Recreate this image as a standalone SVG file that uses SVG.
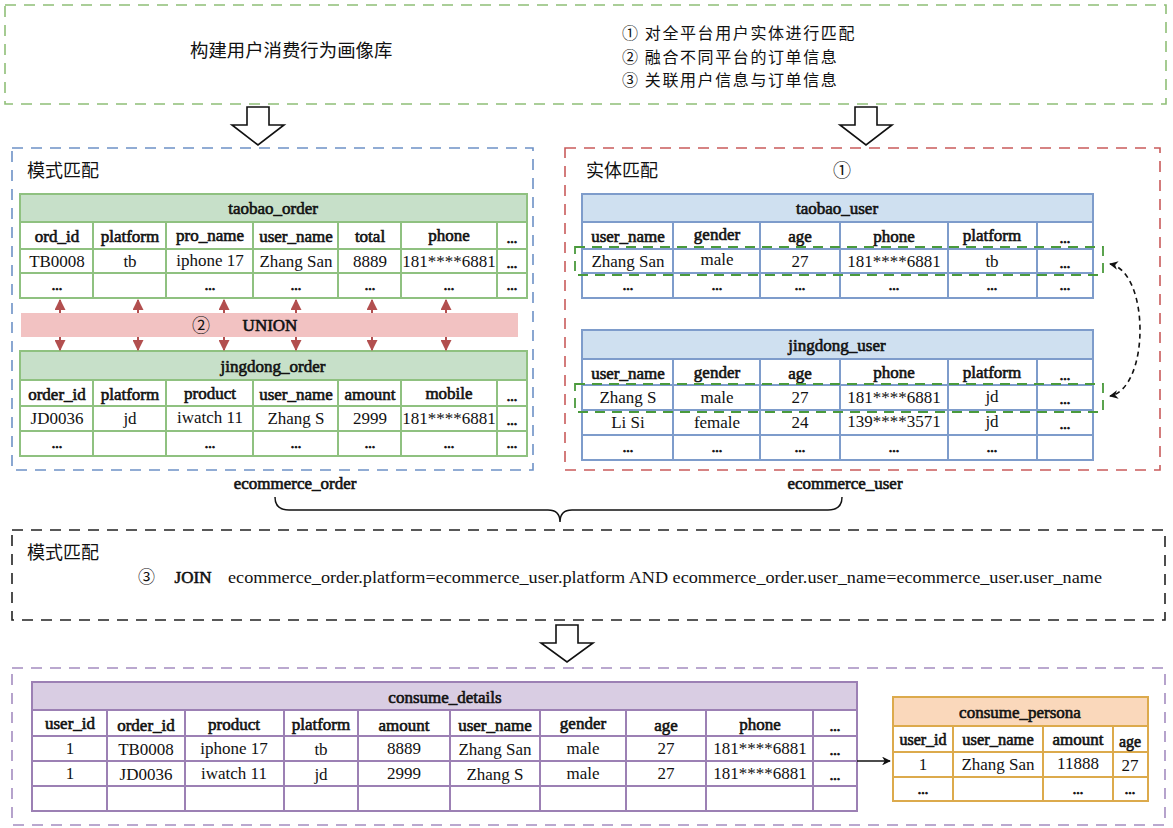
<svg xmlns="http://www.w3.org/2000/svg" width="1173" height="828" viewBox="0 0 1173 828">
<defs>
<style>
.cn{font-family:"Noto Sans CJK SC","Noto Sans",sans-serif;font-size:18px;fill:#111}
.steps{font-size:16px;letter-spacing:1.6px}
.t{font-family:"Liberation Serif","Times New Roman",serif;fill:#111;text-anchor:middle;dominant-baseline:central}
.h{font-size:17px;stroke:#111;stroke-width:0.6;paint-order:stroke}
.d{font-size:17px}
.dot{font-size:14px;stroke:#111;stroke-width:0.9}
.g .frame{stroke:#8fc180;stroke-width:2;fill:#fff}
.g .head{fill:#c7e0c9}
.g line{stroke:#8fc180;stroke-width:2}
.b .frame{stroke:#7e9ccb;stroke-width:2;fill:#fff}
.b .head{fill:#cfe0f0}
.b line{stroke:#7e9ccb;stroke-width:2}
.p .frame{stroke:#9c80b4;stroke-width:2;fill:#fff}
.p .head{fill:#d9cde3}
.p line{stroke:#9c80b4;stroke-width:2}
.o .frame{stroke:#dcaa4c;stroke-width:2;fill:#fff}
.o .head{fill:#fad8bb}
.o line{stroke:#dcaa4c;stroke-width:2}
.box{fill:none;stroke-width:1.6;stroke-dasharray:11 8}
.hollow{fill:#fff;stroke:#111;stroke-width:1.6;stroke-linejoin:miter}
</style>
<marker id="ra" viewBox="0 0 10 10" refX="9" refY="5" markerWidth="5.5" markerHeight="5.5" orient="auto-start-reverse"><path d="M0,0 L10,5 L0,10 z" fill="#b24f4f"/></marker>
<marker id="ka" viewBox="0 0 10 10" refX="9" refY="5" markerWidth="5.5" markerHeight="5.5" orient="auto-start-reverse"><path d="M0,0 L10,5 L0,10 L3,5 z" fill="#111"/></marker>
</defs>
<rect width="1173" height="828" fill="#fff"/>

<!-- frames -->
<g id="goal">
<rect class="box" x="5" y="5" width="1161" height="99" stroke="#8fbf77"/>
<text class="cn" x="190" y="57" style="font-size:18.4px">构建用户消费行为画像库</text>
<text class="cn steps" x="622" y="39"><tspan x="622" y="39">① 对全平台用户实体进行匹配</tspan><tspan x="622" y="62.5">② 融合不同平台的订单信息</tspan><tspan x="622" y="86">③ 关联用户信息与订单信息</tspan></text>
</g>

<g id="schema-frame">
<rect class="box" x="12" y="148" width="521" height="322" stroke="#6d91c6"/>
<text class="cn" x="27" y="177">模式匹配</text>
</g>
<g id="entity-frame">
<rect class="box" x="565" y="148" width="595" height="322" stroke="#c95b5b"/>
<text class="cn" x="586" y="177">实体匹配</text>
<text class="cn" x="833" y="177">①</text>
</g>

<!-- taobao_order -->
<g id="taobao_order" class="g">
<rect class="frame" x="20" y="194" width="507" height="104"/>
<rect class="head" x="21" y="195" width="505" height="27"/>
<line x1="20" y1="222" x2="527" y2="222"/><line x1="20" y1="249" x2="527" y2="249"/><line x1="20" y1="273" x2="527" y2="273"/>
<line x1="93" y1="222" x2="93" y2="298"/><line x1="166" y1="222" x2="166" y2="298"/><line x1="253" y1="222" x2="253" y2="298"/><line x1="338" y1="222" x2="338" y2="298"/><line x1="401" y1="222" x2="401" y2="298"/><line x1="497" y1="222" x2="497" y2="298"/>
<text class="t h" x="273" y="208">taobao_order</text>
<text class="t h" x="57" y="236">ord_id</text><text class="t h" x="130" y="236">platform</text><text class="t h" x="210" y="235">pro_name</text><text class="t h" x="296" y="236">user_name</text><text class="t h" x="370" y="236">total</text><text class="t h" x="449" y="235">phone</text><text class="t dot" x="512" y="238">...</text>
<text class="t d" x="57" y="261">TB0008</text><text class="t d" x="130" y="261">tb</text><text class="t d" x="210" y="260">iphone 17</text><text class="t d" x="296" y="261">Zhang San</text><text class="t d" x="370" y="261">8889</text><text class="t d" x="449" y="261">181****6881</text><text class="t dot" x="512" y="263">...</text>
<text class="t dot" x="57" y="285">...</text><text class="t dot" x="210" y="285">...</text><text class="t dot" x="296" y="285">...</text><text class="t dot" x="370" y="285">...</text><text class="t dot" x="449" y="285">...</text><text class="t dot" x="512" y="285">...</text>
</g>

<!-- jingdong_order -->
<g id="jingdong_order" class="g">
<rect class="frame" x="20" y="351" width="507" height="105"/>
<rect class="head" x="21" y="352" width="505" height="28"/>
<line x1="20" y1="380" x2="527" y2="380"/><line x1="20" y1="406" x2="527" y2="406"/><line x1="20" y1="431" x2="527" y2="431"/>
<line x1="93" y1="380" x2="93" y2="456"/><line x1="166" y1="380" x2="166" y2="456"/><line x1="253" y1="380" x2="253" y2="456"/><line x1="338" y1="380" x2="338" y2="456"/><line x1="401" y1="380" x2="401" y2="456"/><line x1="497" y1="380" x2="497" y2="456"/>
<text class="t h" x="273" y="366">jingdong_order</text>
<text class="t h" x="57" y="394">order_id</text><text class="t h" x="130" y="394">platform</text><text class="t h" x="210" y="393">product</text><text class="t h" x="296" y="394">user_name</text><text class="t h" x="370" y="394">amount</text><text class="t h" x="449" y="393">mobile</text><text class="t dot" x="512" y="396">...</text>
<text class="t d" x="57" y="418">JD0036</text><text class="t d" x="130" y="418">jd</text><text class="t d" x="210" y="417">iwatch 11</text><text class="t d" x="296" y="418">Zhang S</text><text class="t d" x="370" y="418">2999</text><text class="t d" x="449" y="418">181****6881</text><text class="t dot" x="512" y="420">...</text>
<text class="t dot" x="57" y="443">...</text><text class="t dot" x="210" y="443">...</text><text class="t dot" x="296" y="443">...</text><text class="t dot" x="370" y="443">...</text><text class="t dot" x="449" y="443">...</text><text class="t dot" x="512" y="443">...</text>
</g>

<!-- taobao_user -->
<g id="taobao_user" class="b">
<rect class="frame" x="582" y="194" width="511" height="104"/>
<rect class="head" x="583" y="195" width="509" height="27"/>
<line x1="582" y1="222" x2="1093" y2="222"/><line x1="582" y1="249" x2="1093" y2="249"/><line x1="582" y1="273" x2="1093" y2="273"/>
<line x1="673" y1="222" x2="673" y2="298"/><line x1="760" y1="222" x2="760" y2="298"/><line x1="840" y1="222" x2="840" y2="298"/><line x1="948" y1="222" x2="948" y2="298"/><line x1="1037" y1="222" x2="1037" y2="298"/>
<text class="t h" x="837" y="208">taobao_user</text>
<text class="t h" x="628" y="236">user_name</text><text class="t h" x="717" y="234">gender</text><text class="t h" x="800" y="236">age</text><text class="t h" x="894" y="236">phone</text><text class="t h" x="992" y="235">platform</text><text class="t dot" x="1065" y="238">...</text>
<text class="t d" x="628" y="261">Zhang San</text><text class="t d" x="717" y="259">male</text><text class="t d" x="800" y="261">27</text><text class="t d" x="894" y="261">181****6881</text><text class="t d" x="992" y="261">tb</text><text class="t dot" x="1065" y="263">...</text>
<text class="t dot" x="628" y="285">...</text><text class="t dot" x="717" y="285">...</text><text class="t dot" x="800" y="285">...</text><text class="t dot" x="894" y="285">...</text><text class="t dot" x="992" y="285">...</text><text class="t dot" x="1065" y="285">...</text>
</g>

<!-- jingdong_user -->
<g id="jingdong_user" class="b">
<rect class="frame" x="582" y="330" width="511" height="130"/>
<rect class="head" x="583" y="331" width="509" height="28"/>
<line x1="582" y1="359" x2="1093" y2="359"/><line x1="582" y1="385" x2="1093" y2="385"/><line x1="582" y1="410" x2="1093" y2="410"/><line x1="582" y1="435" x2="1093" y2="435"/>
<line x1="673" y1="359" x2="673" y2="460"/><line x1="760" y1="359" x2="760" y2="460"/><line x1="840" y1="359" x2="840" y2="460"/><line x1="948" y1="359" x2="948" y2="460"/><line x1="1037" y1="359" x2="1037" y2="460"/>
<text class="t h" x="837" y="345">jingdong_user</text>
<text class="t h" x="628" y="373">user_name</text><text class="t h" x="717" y="372">gender</text><text class="t h" x="800" y="373">age</text><text class="t h" x="894" y="372">phone</text><text class="t h" x="992" y="372">platform</text><text class="t dot" x="1065" y="375">...</text>
<text class="t d" x="628" y="397">Zhang S</text><text class="t d" x="717" y="397">male</text><text class="t d" x="800" y="397">27</text><text class="t d" x="894" y="397">181****6881</text><text class="t d" x="992" y="396">jd</text><text class="t dot" x="1065" y="399">...</text>
<text class="t d" x="628" y="422">Li Si</text><text class="t d" x="717" y="422">female</text><text class="t d" x="800" y="422">24</text><text class="t d" x="894" y="421">139****3571</text><text class="t d" x="992" y="421">jd</text><text class="t dot" x="1065" y="424">...</text>
<text class="t dot" x="628" y="447">...</text><text class="t dot" x="717" y="447">...</text><text class="t dot" x="800" y="447">...</text><text class="t dot" x="894" y="447">...</text><text class="t dot" x="992" y="447">...</text>
</g>

<!-- consume_details -->
<g id="consume_details" class="p">
<rect class="frame" x="32" y="682" width="825" height="129"/>
<rect class="head" x="33" y="683" width="823" height="27"/>
<line x1="32" y1="710" x2="857" y2="710"/><line x1="32" y1="736" x2="857" y2="736"/><line x1="32" y1="761" x2="857" y2="761"/><line x1="32" y1="786" x2="857" y2="786"/>
<line x1="107" y1="710" x2="107" y2="811"/><line x1="185" y1="710" x2="185" y2="811"/><line x1="284" y1="710" x2="284" y2="811"/><line x1="358" y1="710" x2="358" y2="811"/><line x1="450" y1="710" x2="450" y2="811"/><line x1="540" y1="710" x2="540" y2="811"/><line x1="626" y1="710" x2="626" y2="811"/><line x1="706" y1="710" x2="706" y2="811"/><line x1="813" y1="710" x2="813" y2="811"/>
<text class="t h" x="445" y="697">consume_details</text>
<text class="t h" x="70" y="723">user_id</text><text class="t h" x="146" y="725">order_id</text><text class="t h" x="234" y="724">product</text><text class="t h" x="321" y="724">platform</text><text class="t h" x="404" y="725">amount</text><text class="t h" x="495" y="725">user_name</text><text class="t h" x="583" y="723">gender</text><text class="t h" x="666" y="725">age</text><text class="t h" x="760" y="724">phone</text><text class="t dot" x="835" y="726">...</text>
<text class="t d" x="70" y="748">1</text><text class="t d" x="146" y="749">TB0008</text><text class="t d" x="234" y="748">iphone 17</text><text class="t d" x="321" y="749">tb</text><text class="t d" x="404" y="748">8889</text><text class="t d" x="495" y="749">Zhang San</text><text class="t d" x="583" y="748">male</text><text class="t d" x="666" y="748">27</text><text class="t d" x="760" y="748">181****6881</text><text class="t dot" x="835" y="750">...</text>
<text class="t d" x="70" y="773">1</text><text class="t d" x="146" y="774">JD0036</text><text class="t d" x="234" y="773">iwatch 11</text><text class="t d" x="321" y="774">jd</text><text class="t d" x="404" y="773">2999</text><text class="t d" x="495" y="774">Zhang S</text><text class="t d" x="583" y="773">male</text><text class="t d" x="666" y="773">27</text><text class="t d" x="760" y="773">181****6881</text><text class="t dot" x="835" y="775">...</text>
</g>

<!-- consume_persona -->
<g id="consume_persona" class="o">
<rect class="frame" x="893" y="697" width="255" height="104"/>
<rect class="head" x="894" y="698" width="253" height="28"/>
<line x1="893" y1="726" x2="1148" y2="726"/><line x1="893" y1="752" x2="1148" y2="752"/><line x1="893" y1="777" x2="1148" y2="777"/>
<line x1="953" y1="726" x2="953" y2="801"/><line x1="1043" y1="726" x2="1043" y2="801"/><line x1="1113" y1="726" x2="1113" y2="801"/>
<text class="t h" x="1020" y="712">consume_persona</text>
<text class="t h" x="923" y="739" style="font-size:16px">user_id</text><text class="t h" x="998" y="739" style="font-size:16.5px">user_name</text><text class="t h" x="1078" y="739">amount</text><text class="t h" x="1130" y="741" style="font-size:16px">age</text>
<text class="t d" x="923" y="764">1</text><text class="t d" x="998" y="764">Zhang San</text><text class="t d" x="1078" y="763">11888</text><text class="t d" x="1130" y="765">27</text>
<text class="t dot" x="923" y="789">...</text><text class="t dot" x="1078" y="789">...</text><text class="t dot" x="1130" y="789">...</text>
</g>

<!-- join frame -->
<g id="join">
<rect class="box" x="12" y="530" width="1153" height="90" stroke="#222"/>
<text class="cn" x="27" y="559">模式匹配</text>
<text class="cn" x="138" y="583" style="font-size:17px">③</text>
<text class="t h" x="193" y="577">JOIN</text>
<text class="t" x="228" y="577" textLength="874" lengthAdjust="spacingAndGlyphs" style="text-anchor:start;font-size:17px">ecommerce_order.platform=ecommerce_user.platform AND ecommerce_order.user_name=ecommerce_user.user_name</text>
</g>

<g id="result-frame">
<rect class="box" x="12" y="668" width="1153" height="157" stroke="#a48cc0"/>
</g>

<g id="labels">
<text class="t h" x="295" y="483">ecommerce_order</text>
<text class="t h" x="845" y="483">ecommerce_user</text>
</g>

<!-- connectors -->
<g id="connectors">
<path class="hollow" d="M247,107 H269 V125 H284 L258,145 L232,125 H247 Z"/>
<path class="hollow" d="M855,107 H877 V125 H892 L866,145 L840,125 H855 Z"/>
<path class="hollow" d="M556,625 H578 V643 H593 L567,662 L541,643 H556 Z"/>
<g stroke="#b24f4f" stroke-width="2" fill="none">
<line x1="60" y1="300" x2="60" y2="350" marker-start="url(#ra)" marker-end="url(#ra)"/>
<line x1="138" y1="300" x2="138" y2="350" marker-start="url(#ra)" marker-end="url(#ra)"/>
<line x1="224" y1="300" x2="224" y2="350" marker-start="url(#ra)" marker-end="url(#ra)"/>
<line x1="296" y1="300" x2="296" y2="350" marker-start="url(#ra)" marker-end="url(#ra)"/>
<line x1="372" y1="300" x2="372" y2="350" marker-start="url(#ra)" marker-end="url(#ra)"/>
<line x1="446" y1="300" x2="446" y2="350" marker-start="url(#ra)" marker-end="url(#ra)"/>
</g>
<rect x="21" y="313" width="497" height="24" fill="#f2c2c2"/>
<text class="cn" x="192" y="332">②</text>
<text class="t h" x="270" y="325">UNION</text>
<g fill="none" stroke="#4a9a3c" stroke-width="1.8" stroke-dasharray="10 7">
<rect x="575" y="247" width="528" height="28"/>
<rect x="575" y="384" width="528" height="28"/>
</g>
<path d="M1110,264 C1150,272 1150,388 1110,396" fill="none" stroke="#111" stroke-width="1.6" stroke-dasharray="5 4" marker-start="url(#ka)" marker-end="url(#ka)"/>
<path d="M275,497 Q275,510 289,510 L548,510 Q560,510 560,522 Q560,510 572,510 L828,510 Q842,510 842,497" fill="none" stroke="#111" stroke-width="1.5"/>
<line x1="857" y1="761" x2="890" y2="761" stroke="#111" stroke-width="1.6" marker-end="url(#ka)"/>
</g>
</svg>
